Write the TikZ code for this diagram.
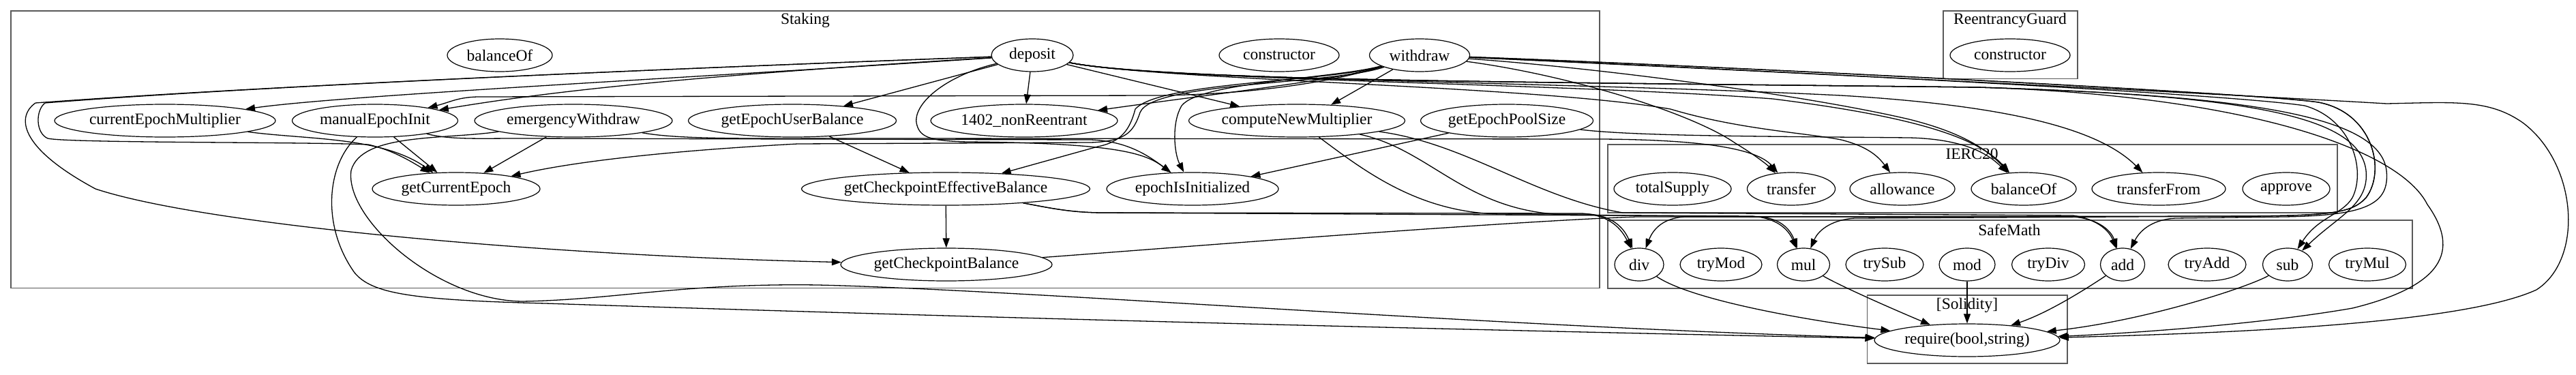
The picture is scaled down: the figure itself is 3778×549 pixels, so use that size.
\documentclass[tikz,border=0pt]{standalone}
\usepackage{fontspec}
\setmainfont{Liberation Serif}
\usetikzlibrary{shapes.geometric,arrows.meta}
\newcommand{\callfont}{\fontsize{23.5}{26}\selectfont}

\tikzset{
  fn/.style={ellipse, draw, line width=1.2pt, inner sep=0pt,
    minimum height=48pt, minimum width=#1, font=\callfont},
  cluster/.style={draw=black!65, line width=1.6pt},
  clabel/.style={font=\callfont, inner sep=0pt},
  call/.style={line width=1.3pt, -{Triangle[length=14pt,width=10pt]}}
}

\begin{document}
\begin{tikzpicture}[x=1pt, y=-1pt]
  \useasboundingbox (0,0) rectangle (3778,549);

  % Clusters
  \draw[cluster] (15.8,15.8) rectangle (2346,422.6);
  \node[clabel] (lblStaking) at (1181,30) {Staking};
  \draw[cluster] (2850,16) rectangle (3047,115.5);
  \node[clabel] (lblGuard) at (2948,30) {ReentrancyGuard};
  \draw[cluster] (2358,212) rectangle (3428,312);
  \node[clabel] (lblErc) at (2892,226) {IERC20};
  \draw[cluster] (2358,323) rectangle (3538,423);
  \node[clabel] (lblMath) at (2947,337) {SafeMath};
  \draw[cluster] (2738.5,433) rectangle (3032,533);
  \node[clabel] (lblSol) at (2885,447.5) {[Solidity]};

  % Staking
  \node[fn=154pt] (balS) at (733,81) {balanceOf};
  \node[fn=120pt] (deposit) at (1514,81) {deposit};
  \node[fn=176pt] (conS) at (1876,81) {constructor};
  \node[fn=147pt] (withdraw) at (2082,81) {withdraw};
  \node[fn=324pt] (cem) at (242,177) {currentEpochMultiplier};
  \node[fn=243pt] (mei) at (550,177) {manualEpochInit};
  \node[fn=290pt] (ew) at (841,177) {emergencyWithdraw};
  \node[fn=305pt] (geub) at (1162,177) {getEpochUserBalance};
  \node[fn=274pt] (nr) at (1502,177) {1402\_nonReentrant};
  \node[fn=317pt] (cnm) at (1902,177) {computeNewMultiplier};
  \node[fn=253pt] (geps) at (2210,177) {getEpochPoolSize};
  \node[fn=246pt] (gce) at (669,277) {getCurrentEpoch};
  \node[fn=423pt] (gceb) at (1387,277) {getCheckpointEffectiveBalance};
  \node[fn=252pt] (eii) at (1749,277) {epochIsInitialized};
  \node[fn=310pt] (gcb) at (1388,388) {getCheckpointBalance};

  % ReentrancyGuard
  \node[fn=176pt] (conG) at (2948,81) {constructor};

  % IERC20
  \node[fn=172pt] (totalSupply) at (2453,277) {totalSupply};
  \node[fn=129pt] (transfer) at (2627,277) {transfer};
  \node[fn=154pt] (allowance) at (2790,277) {allowance};
  \node[fn=154pt] (balI) at (2968,277) {balanceOf};
  \node[fn=196pt] (transferFrom) at (3166,277) {transferFrom};
  \node[fn=128pt] (approve) at (3353,277) {approve};

  % SafeMath
  \node[fn=72pt] (div) at (2404,388) {div};
  \node[fn=120pt] (tryMod) at (2524,388) {tryMod};
  \node[fn=77pt] (mul) at (2645,388) {mul};
  \node[fn=114pt] (trySub) at (2764,388) {trySub};
  \node[fn=82pt] (mod) at (2885,388) {mod};
  \node[fn=107pt] (tryDiv) at (3004,388) {tryDiv};
  \node[fn=65pt] (add) at (3113,388) {add};
  \node[fn=114pt] (tryAdd) at (3237,388) {tryAdd};
  \node[fn=73pt] (sub) at (3355,388) {sub};
  \node[fn=113pt] (tryMul) at (3472,388) {tryMul};

  % Solidity
  \node[fn=272pt] (req) at (2885,499) {require(bool,string)};

  % deposit
  \draw[call] (deposit) .. controls (1000,115) and (500,140) .. (cem);
  \draw[call] (deposit) .. controls (1000,112) and (800,135) .. (mei);
  \draw[call] (deposit) .. controls (1000,100) and (400,125) .. (66,151)
    .. controls (52,162) and (52,195) .. (70,203)
    .. controls (100,210) and (450,208) .. (540,212)
    .. controls (575,220) and (600,235) .. (gce);
  \draw[call] (deposit) .. controls (1000,100) and (400,125) .. (52,151)
    .. controls (25,170) and (25,215) .. (140,277)
    .. controls (300,330) and (800,375) .. (gcb);
  \draw[call] (deposit.195) -- (geub.16);
  \draw[call] (deposit) -- (nr);
  \draw[call] (deposit.-15) -- (cnm.166);
  \draw[call] (deposit) .. controls (1390,110) and (1340,150) .. (1344,180)
    .. controls (1348,200) and (1360,207) .. (1420,208)
    .. controls (1640,210) and (1680,225) .. (eii);
  \draw[call] (deposit) .. controls (1700,118) and (2250,125) .. (2450,160)
    .. controls (2550,190) and (2650,195) .. (2700,205)
    .. controls (2740,215) and (2755,230) .. (allowance);
  \draw[call] (deposit) .. controls (1700,118) and (2300,120) .. (2700,140)
    .. controls (2950,155) and (3080,190) .. (transferFrom);
  \draw[call] (deposit) .. controls (1700,118) and (2300,122) .. (2600,145)
    .. controls (2800,170) and (2900,200) .. (balI);
  \draw[call] (deposit) .. controls (1700,118) and (2200,120) .. (2900,128)
    .. controls (3300,140) and (3490,170) .. (3500,250)
    .. controls (3505,300) and (3470,316) .. (3350,318)
    -- (3190,320) .. controls (3160,322) and (3140,335) .. (add);
  \draw[call] (deposit) .. controls (1700,118) and (2200,120) .. (2900,128)
    .. controls (3300,140) and (3460,170) .. (3470,250)
    .. controls (3475,300) and (3430,316) .. (sub);
  \draw[call] (deposit) .. controls (1700,118) and (2200,120) .. (2900,128)
    .. controls (3300,140) and (3520,220) .. (3560,300)
    .. controls (3610,370) and (3580,420) .. (3450,452)
    .. controls (3300,478) and (3100,490) .. (req);

  % withdraw
  \draw[call] (withdraw.208) -- (cnm.25);
  \draw[call] (withdraw) .. controls (1960,118) and (1800,135) .. (nr);
  \draw[call] (withdraw) .. controls (1960,115) and (1760,120) .. (1733,155)
    .. controls (1718,180) and (1722,225) .. (eii);
  \draw[call] (withdraw) .. controls (1950,120) and (1700,120) .. (1665,160)
    .. controls (1657,190) and (1645,208) .. (1610,215) -- (gceb);
  \draw[call] (withdraw) .. controls (1950,125) and (1690,120) .. (1672,165)
    .. controls (1662,195) and (1650,207) .. (1600,209)
    -- (1170,211) .. controls (1000,220) and (850,235) .. (gce);
  \draw[call] (withdraw) .. controls (1960,118) and (1850,138) .. (1700,140)
    -- (700,142) .. controls (670,143) and (660,150) .. (mei);
  \draw[call] (withdraw) .. controls (2300,110) and (2480,165) .. (2545,210)
    .. controls (2570,225) and (2590,240) .. (transfer);
  \draw[call] (withdraw) .. controls (2350,100) and (2650,140) .. (2800,175)
    .. controls (2880,195) and (2915,220) .. (balI);
  \draw[call] (withdraw) .. controls (2400,92) and (3300,135) .. (3400,150)
    .. controls (3480,165) and (3500,250) .. (3470,290)
    .. controls (3450,312) and (3420,316) .. (3300,317)
    -- (2470,318) .. controls (2440,320) and (2425,335) .. (div);
  \draw[call] (withdraw) .. controls (2400,92) and (3300,135) .. (3400,150)
    .. controls (3480,165) and (3500,250) .. (3470,290)
    .. controls (3450,312) and (3420,316) .. (3300,317)
    -- (2720,320) .. controls (2690,322) and (2668,335) .. (mul);
  \draw[call] (withdraw) .. controls (2400,95) and (3250,135) .. (3380,155)
    .. controls (3450,175) and (3470,250) .. (3450,290)
    .. controls (3435,315) and (3400,318) .. (sub);
  \draw[call] (withdraw) .. controls (2400,95) and (3300,140) .. (3500,152)
    .. controls (3600,150) and (3650,145) .. (3700,180)
    .. controls (3780,240) and (3790,380) .. (3720,425)
    .. controls (3600,480) and (3200,490) .. (req);

  % emergencyWithdraw
  \draw[call] (ew.211) -- (gce.30);
  \draw[call] (ew) .. controls (1000,205) and (1100,203) .. (1300,203)
    -- (2350,204) .. controls (2480,205) and (2575,215) .. (transfer);
  \draw[call] (ew) .. controls (650,205) and (530,195) .. (515,250)
    .. controls (505,320) and (640,440) .. (765,442)
    .. controls (900,440) and (1000,415) .. (1200,418)
    .. controls (1500,425) and (2200,480) .. (req);

  % manualEpochInit
  \draw[call] (mei.-41) -- (gce.139);
  \draw[call] (mei) .. controls (660,205) and (700,203) .. (760,203)
    -- (1600,205) .. controls (1650,207) and (1680,225) .. (eii);
  \draw[call] (mei) .. controls (480,240) and (470,330) .. (520,400)
    .. controls (545,430) and (600,440) .. (800,445)
    .. controls (1500,468) and (2200,485) .. (req);

  % other Staking calls
  \draw[call] (cem) .. controls (450,205) and (560,200) .. (gce);
  \draw[call] (geub.-23.5) -- (gceb.156);
  \draw[call] (gceb) -- (gcb);
  \draw[call] (geps.192) -- (eii.12);
  \draw[call] (geps) .. controls (2400,200) and (2600,200) .. (2800,202)
    .. controls (2880,204) and (2915,225) .. (balI);
  \draw[call] (cnm) .. controls (2000,250) and (2080,312) .. (2200,314)
    -- (2330,314) .. controls (2360,316) and (2380,330) .. (div);
  \draw[call] (cnm) .. controls (2100,220) and (2150,312) .. (2300,315)
    -- (2580,318) .. controls (2610,320) and (2625,335) .. (mul);
  \draw[call] (cnm) .. controls (2150,210) and (2250,290) .. (2380,312)
    -- (3040,316) .. controls (3070,320) and (3092,335) .. (add);
  \draw[call] (gceb) .. controls (1540,305) and (1570,312) .. (1620,312)
    -- (2320,313) .. controls (2355,315) and (2375,330) .. (div);
  \draw[call] (gceb) .. controls (1540,305) and (1570,312) .. (1620,312)
    -- (2570,317) .. controls (2605,320) and (2622,335) .. (mul);
  \draw[call] (gcb) .. controls (1700,365) and (2200,325) .. (2400,318)
    -- (3040,318) .. controls (3072,320) and (3095,335) .. (add);

  % SafeMath to require
  \draw[call] (div) .. controls (2480,440) and (2650,470) .. (req);
  \draw[call] (mul) .. controls (2700,420) and (2780,455) .. (req);
  \draw[call] (mod) -- (req);
  \draw[call] (add) .. controls (3050,430) and (3000,460) .. (req);
  \draw[call] (sub) .. controls (3300,420) and (3150,470) .. (req);
\end{tikzpicture}
\end{document}
